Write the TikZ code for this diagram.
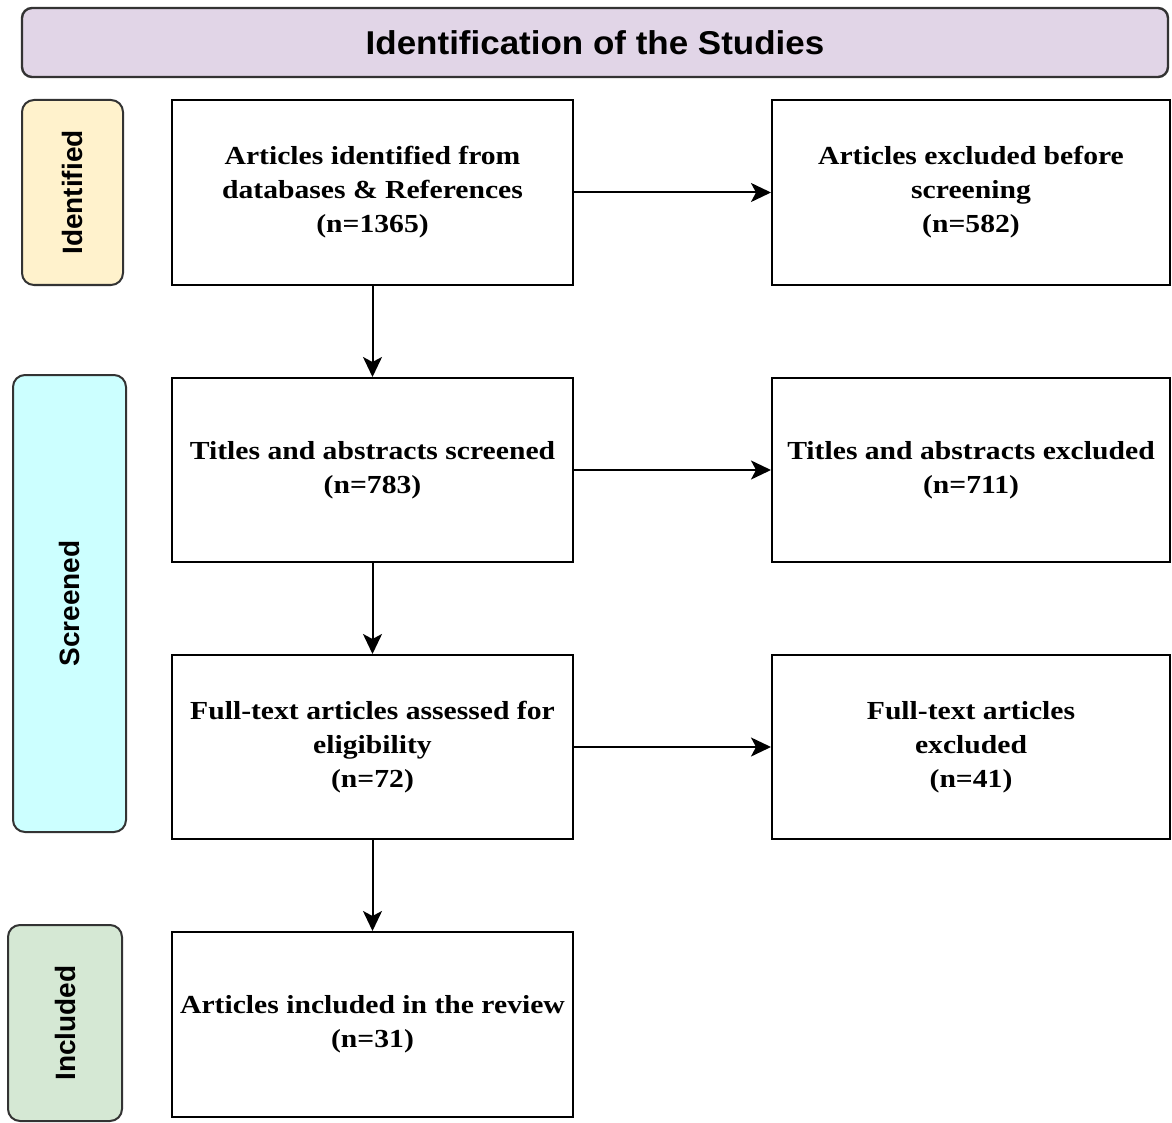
\documentclass[tikz,border=0pt]{standalone}
\usepackage{fontspec}
\usetikzlibrary{arrows.meta}
\newfontfamily\boxfont[FakeStretch=1.14]{Liberation Serif}
\newfontfamily\sansb[FakeStretch=1.06]{Liberation Sans}
\newfontfamily\sidefont{Liberation Sans}
\definecolor{titlefill}{HTML}{E1D5E7}
\definecolor{idfill}{HTML}{FFF2CC}
\definecolor{scrfill}{HTML}{CCFFFF}
\definecolor{incfill}{HTML}{D5E8D4}
\definecolor{edge}{HTML}{333333}
\tikzset{
  flowbox/.style={draw=black, line width=2pt, fill=white, align=center,
    font=\boxfont\bfseries\fontsize{26}{34}\selectfont, inner sep=0pt},
  phase/.style={draw=edge, line width=2pt, rounded corners=12pt},
  phaselabel/.style={rotate=90, font=\sidefont\bfseries\fontsize{28}{30}\selectfont},
  flowarrow/.style={line width=2pt, -{Stealth[length=20pt,width=19pt,inset=5pt]}},
}
\begin{document}
\begin{tikzpicture}[x=1pt,y=-1pt]
\useasboundingbox (0,0) rectangle (1172,1123);
% title banner
\node[draw=edge, line width=2.4pt, rounded corners=10pt, fill=titlefill,
  minimum width=1146pt, minimum height=69pt, inner sep=0pt,
  font=\sansb\bfseries\fontsize{33}{36}\selectfont] (title) at (595,42.5)
  {Identification of the Studies};
% phase side bars
\node[phase, fill=idfill, minimum width=101pt, minimum height=185pt, inner sep=0pt] (pid) at (72.5,192.5) {};
\node[phaselabel] (pidl) at (pid.center) {Identified};
\node[phase, fill=scrfill, minimum width=113pt, minimum height=457pt, inner sep=0pt] (pscr) at (69.5,603.5) {};
\node[phaselabel] (pscrl) at (pscr.center) {Screened};
\node[phase, fill=incfill, minimum width=114pt, minimum height=196pt, inner sep=0pt] (pinc) at (65,1023) {};
\node[phaselabel] (pincl) at (pinc.center) {Included};
% left column
\node[flowbox, minimum width=401pt, minimum height=185pt] (a1) at (372.5,192.5)
  {Articles identified from\\databases \& References\\(n=1365)};
\node[flowbox, minimum width=401pt, minimum height=184pt] (a2) at (372.5,470)
  {Titles and abstracts screened\\(n=783)};
\node[flowbox, minimum width=401pt, minimum height=184pt] (a3) at (372.5,747)
  {Full-text articles assessed for\\eligibility\\(n=72)};
\node[flowbox, minimum width=401pt, minimum height=185pt] (a4) at (372.5,1024.5)
  {Articles included in the review\\(n=31)};
% right column
\node[flowbox, minimum width=398pt, minimum height=185pt] (b1) at (971,192.5)
  {Articles excluded before\\screening\\(n=582)};
\node[flowbox, minimum width=398pt, minimum height=184pt] (b2) at (971,470)
  {Titles and abstracts excluded\\(n=711)};
\node[flowbox, minimum width=398pt, minimum height=184pt] (b3) at (971,747)
  {Full-text articles\\excluded\\(n=41)};
% connectors
\draw[flowarrow] (a1.east) -- (b1.west);
\draw[flowarrow] (a2.east) -- (b2.west);
\draw[flowarrow] (a3.east) -- (b3.west);
\draw[flowarrow] (a1.south) -- (a2.north);
\draw[flowarrow] (a2.south) -- (a3.north);
\draw[flowarrow] (a3.south) -- (a4.north);
\end{tikzpicture}
\end{document}
